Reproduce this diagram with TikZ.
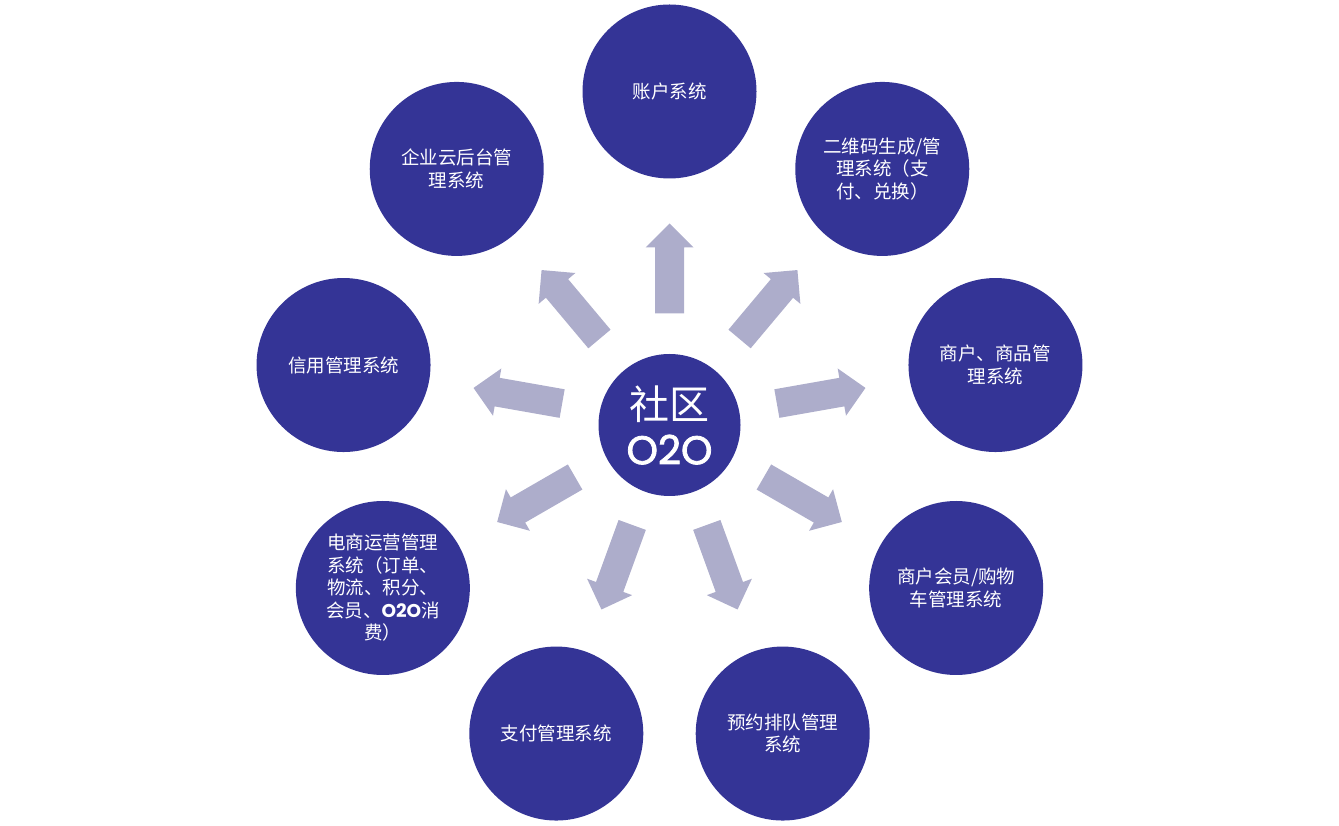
\documentclass[tikz,border=0pt]{standalone}
\usepackage{fontspec}
\setmainfont{Noto Sans CJK SC}
\newfontfamily\popp{Poppins}
\newfontfamily\poppfat{Poppins}[FakeBold=2]
\usetikzlibrary{calc}
\definecolor{circc}{RGB}{52,52,150}
\definecolor{arrc}{RGB}{173,173,203}
\begin{document}
\begin{tikzpicture}[x=1pt,y=1pt,
  sat/.style={circle,fill=circc,minimum size=174pt,inner sep=0pt,text=white,align=center,font=\fontsize{18.5}{22.5}\selectfont},
  hubs/.style={circle,fill=circc,minimum size=142pt,inner sep=0pt,text=white,align=center,font=\fontsize{40}{45}\selectfont},
  blockarrow/.style={fill=arrc}]
\useasboundingbox (0,0) rectangle (1339,825);
\coordinate (o) at (669.5,402.5);
\node[hubs] (hub) at (669.5,400) {社区\\{\poppfat O2O}};
\node[sat] (s1) at ($(o)+(90:331)$) {账户系统};
\node[sat] (s2) at ($(o)+(50:331)$) {二维码生成/管\\理系统（支\\付、兑换）};
\node[sat] (s3) at ($(o)+(10:331)$) {商户、商品管\\理系统};
\node[sat] (s4) at ($(o)+(-30:331)$) {商户会员/购物\\车管理系统};
\node[sat] (s5) at ($(o)+(-70:331)$) {预约排队管理\\系统};
\node[sat] (s6) at ($(o)+(-110:331)$) {支付管理系统};
\node[sat] (s7) at ($(o)+(-150:331)$) {电商运营管理\\系统（订单、\\物流、积分、\\会员、{\popp\bfseries O2O}消\\费）};
\node[sat] (s8) at ($(o)+(170:331)$) {信用管理系统};
\node[sat] (s9) at ($(o)+(130:331)$) {企业云后台管\\理系统};
\foreach \a in {90,50,10,-30,-70,-110,-150,170,130}
  \fill[blockarrow,shift={(o)},rotate=\a]
    (109,-14.5) -- (175,-14.5) -- (175,-24) -- (199,0) -- (175,24) -- (175,14.5) -- (109,14.5) -- cycle;
\end{tikzpicture}
\end{document}
